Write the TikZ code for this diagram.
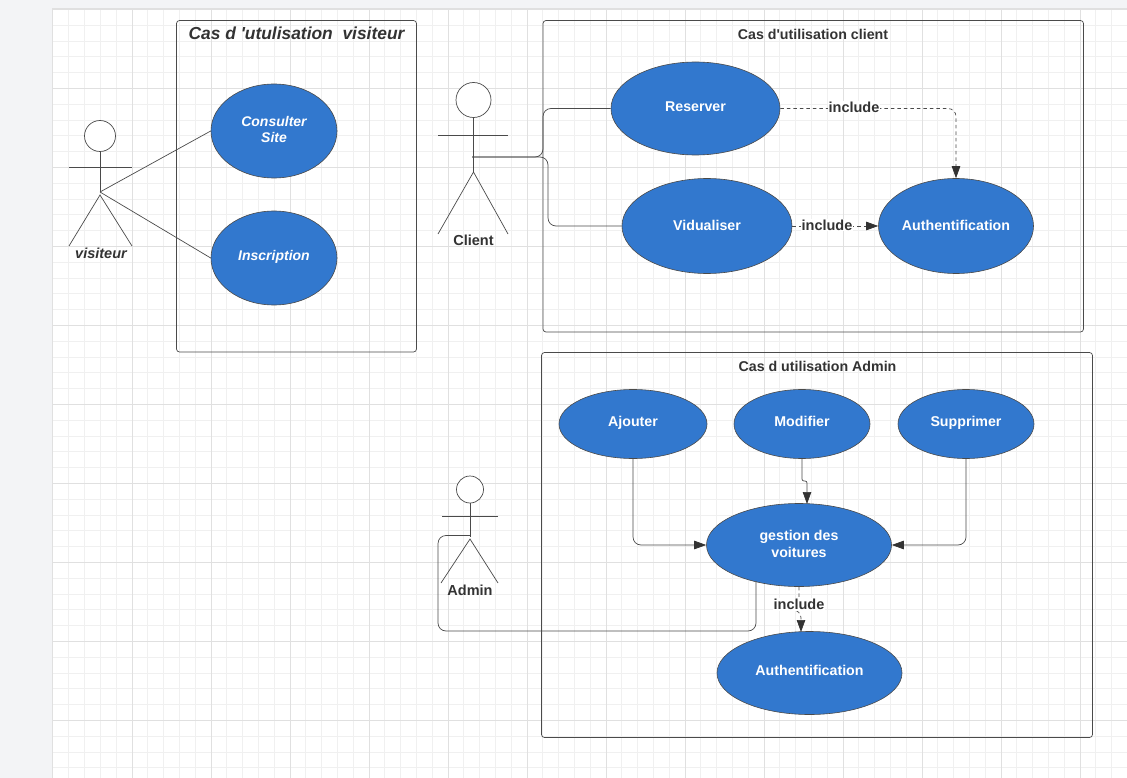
\documentclass[tikz,border=0pt]{standalone}
\usepackage{fontspec}
\setmainfont{Liberation Sans}
\usepackage[dvipsnames, svgnames]{xcolor}
\usetikzlibrary{arrows.meta,positioning,shapes.geometric}
\definecolor{usecase}{HTML}{3278CE}
\definecolor{inktext}{HTML}{333333}
\definecolor{inkline}{HTML}{4A4A4A}
\definecolor{pagebg}{HTML}{F3F4F6}
\definecolor{gridminor}{HTML}{F0F0F0}
\definecolor{gridmajor}{HTML}{E0E0E0}
\tikzset{
    usecase/.style={ellipse,draw=inkline,line width=0.6pt,fill=usecase,text=white,inner sep=0pt,
        align=center,font=\bfseries\fontsize{14.2}{17}\selectfont},
    visitcase/.style={usecase,font=\bfseries\itshape\fontsize{14}{16}\selectfont},
    oneline/.style={text height=10pt,text depth=4pt},
    twolines/.style={text depth=3pt},
    systembox/.style={draw=inkline,line width=0.7pt,rounded corners=3pt},
    boxtitle/.style={text=inktext,font=\bfseries\fontsize{14.2}{17}\selectfont},
    actorname/.style={text=inktext,font=\bfseries\fontsize{14.5}{17}\selectfont},
    head/.style={circle,draw=inkline,line width=0.7pt,fill=white,inner sep=0pt},
    limb/.style={draw=inkline,line width=0.7pt},
    link/.style={draw=inkline,line width=0.7pt,rounded corners=8pt},
    flow/.style={link,-{Stealth[length=12pt,width=8.5pt,inset=0pt,color=inktext]}},
    includeflow/.style={flow,dash pattern=on 3.5pt off 3pt},
    includetag/.style={fill=white,inner sep=1pt,text=inktext,font=\bfseries\fontsize{14.5}{17}\selectfont},
}
\begin{document}
\begin{tikzpicture}[>=Stealth,x=1pt,y=-1pt]
    % page and grid
    \useasboundingbox (0,0) rectangle (1127,778);
    \fill[pagebg] (0,0) rectangle (1127,778);
    \fill[gridmajor] (51.5,8.5) rectangle (1127,778);
    \fill[white] (53,10) rectangle (1127,778);
    \foreach \i in {1,...,68} {
        \draw[gridminor,line width=0.9pt] ({53+15.8*\i},10) -- ({53+15.8*\i},778);
    }
    \foreach \i in {1,...,48} {
        \draw[gridminor,line width=0.9pt] (53,{9.5+15.8*\i}) -- (1127,{9.5+15.8*\i});
    }
    \foreach \i in {1,...,13} {
        \draw[gridmajor,line width=0.9pt] ({53+79*\i},10) -- ({53+79*\i},778);
    }
    \foreach \i in {1,...,9} {
        \draw[gridmajor,line width=0.9pt] (53,{9.5+79*\i}) -- (1127,{9.5+79*\i});
    }

    % system boxes
    \draw[systembox] (176.5,20.5) rectangle (416.5,352);
    \draw[systembox] (543,20.5) rectangle (1083.5,332);
    \draw[systembox] (541.5,352.5) rectangle (1092.5,737.5);
    \node[boxtitle,font=\bfseries\itshape\fontsize{17.4}{21}\selectfont] (visitortitle) at (296.5,33) {Cas d \textquotesingle utulisation\ \ visiteur};
    \node[boxtitle] (clienttitle) at (813,34.5) {Cas d\textquotesingle utilisation client};
    \node[boxtitle] (admintitle) at (817.5,366.5) {Cas d utilisation Admin};

    % use cases
    \node[visitcase,text depth=4pt,minimum width=126pt,minimum height=94pt] (consulter) at (274,131) {Consulter\\Site};
    \node[visitcase,oneline,text depth=5pt,minimum width=126pt,minimum height=94pt] (inscription) at (274,258) {Inscription};
    \node[usecase,oneline,minimum width=169pt,minimum height=93pt] (reserver) at (695.5,108.5) {Reserver};
    \node[usecase,oneline,text depth=2pt,minimum width=170pt,minimum height=95pt] (vidualiser) at (707,226) {Vidualiser};
    \node[usecase,oneline,text depth=2pt,minimum width=155pt,minimum height=95pt] (authclient) at (956,226) {Authentification};
    \node[usecase,oneline,text depth=5pt,minimum width=148pt,minimum height=69pt] (ajouter) at (633,424) {Ajouter};
    \node[usecase,oneline,text depth=5pt,minimum width=136pt,minimum height=69pt] (modifier) at (802,424) {Modifier};
    \node[usecase,oneline,text depth=5pt,minimum width=136pt,minimum height=69pt] (supprimer) at (966,424) {Supprimer};
    \node[usecase,twolines,minimum width=185pt,minimum height=83pt] (gestion) at (799,545) {gestion des\\voitures};
    \node[usecase,oneline,text depth=5pt,minimum width=185pt,minimum height=83pt] (authadmin) at (809.5,673) {Authentification};

    % actors
    \node[head,minimum size=31pt] (visitorhead) at (100,136) {};
    \coordinate (visitorhip) at (100,192);
    \coordinate (visitorlegs) at (100,195);
    \draw[limb] (visitorhead) -- (visitorhip);
    \draw[limb] (69,167) -- (132,167);
    \draw[limb] (69,246) -- (visitorlegs) -- (132,246);
    \node[actorname,font=\bfseries\itshape\fontsize{14.5}{17}\selectfont] (visitorname) at (101,253.5) {visiteur};

    \node[head,minimum size=35pt] (clienthead) at (473.5,100) {};
    \coordinate (clienthip) at (473.5,172);
    \coordinate (clienthub) at (472,157);
    \draw[limb] (clienthead) -- (clienthip);
    \draw[limb] (438,135) -- (508,135);
    \draw[limb] (438,234) -- (clienthip) -- (508,234);
    \node[actorname] (clientname) at (473.5,240.5) {Client};

    \node[head,minimum size=27pt] (adminhead) at (470,489.5) {};
    \coordinate (adminhip) at (470,537);
    \coordinate (adminhook) at (470,535.5);
    \coordinate (adminlegs) at (470,539);
    \draw[limb] (adminhead) -- (adminhip);
    \draw[limb] (442,516) -- (498,516);
    \draw[limb] (441,583) -- (adminlegs) -- (498,583);
    \node[actorname] (adminname) at (470,590) {Admin};

    % connectors
    \draw[limb] (visitorhip) -- (consulter.west);
    \draw[limb] (visitorhip) -- (inscription.west);
    \draw[link] (clienthub) -- (543,157) -- (543,108.5) -- (reserver.west);
    \draw[link] (clienthub) -- (548,157) -- (548,226) -- (vidualiser.west);
    \draw[link] (756,581) -- (756,631) -- (438,631) -- (438,535.5) -- (adminhook);

    \draw[includeflow] (reserver.east) -- (956,108.5) -- (authclient.north);
    \node[includetag] (includereserver) at (854,107) {include};
    \draw[includeflow] (vidualiser.east) -- (authclient.west);
    \node[includetag] (includevidualiser) at (827,225) {include};

    \draw[flow] (ajouter.south) -- (633,545) -- (gestion.west);
    \draw[flow] (supprimer.south) -- (966,545) -- (gestion.east);
    \draw[flow,rounded corners=2pt] (modifier.south) -- (802,481) -- (807,481) -- (807,504);
    \draw[includeflow] (gestion.south) -- (799,610) -- (801,610) -- (801,632);
    \node[includetag] (includegestion) at (799,604.5) {include};
\end{tikzpicture}
\end{document}
